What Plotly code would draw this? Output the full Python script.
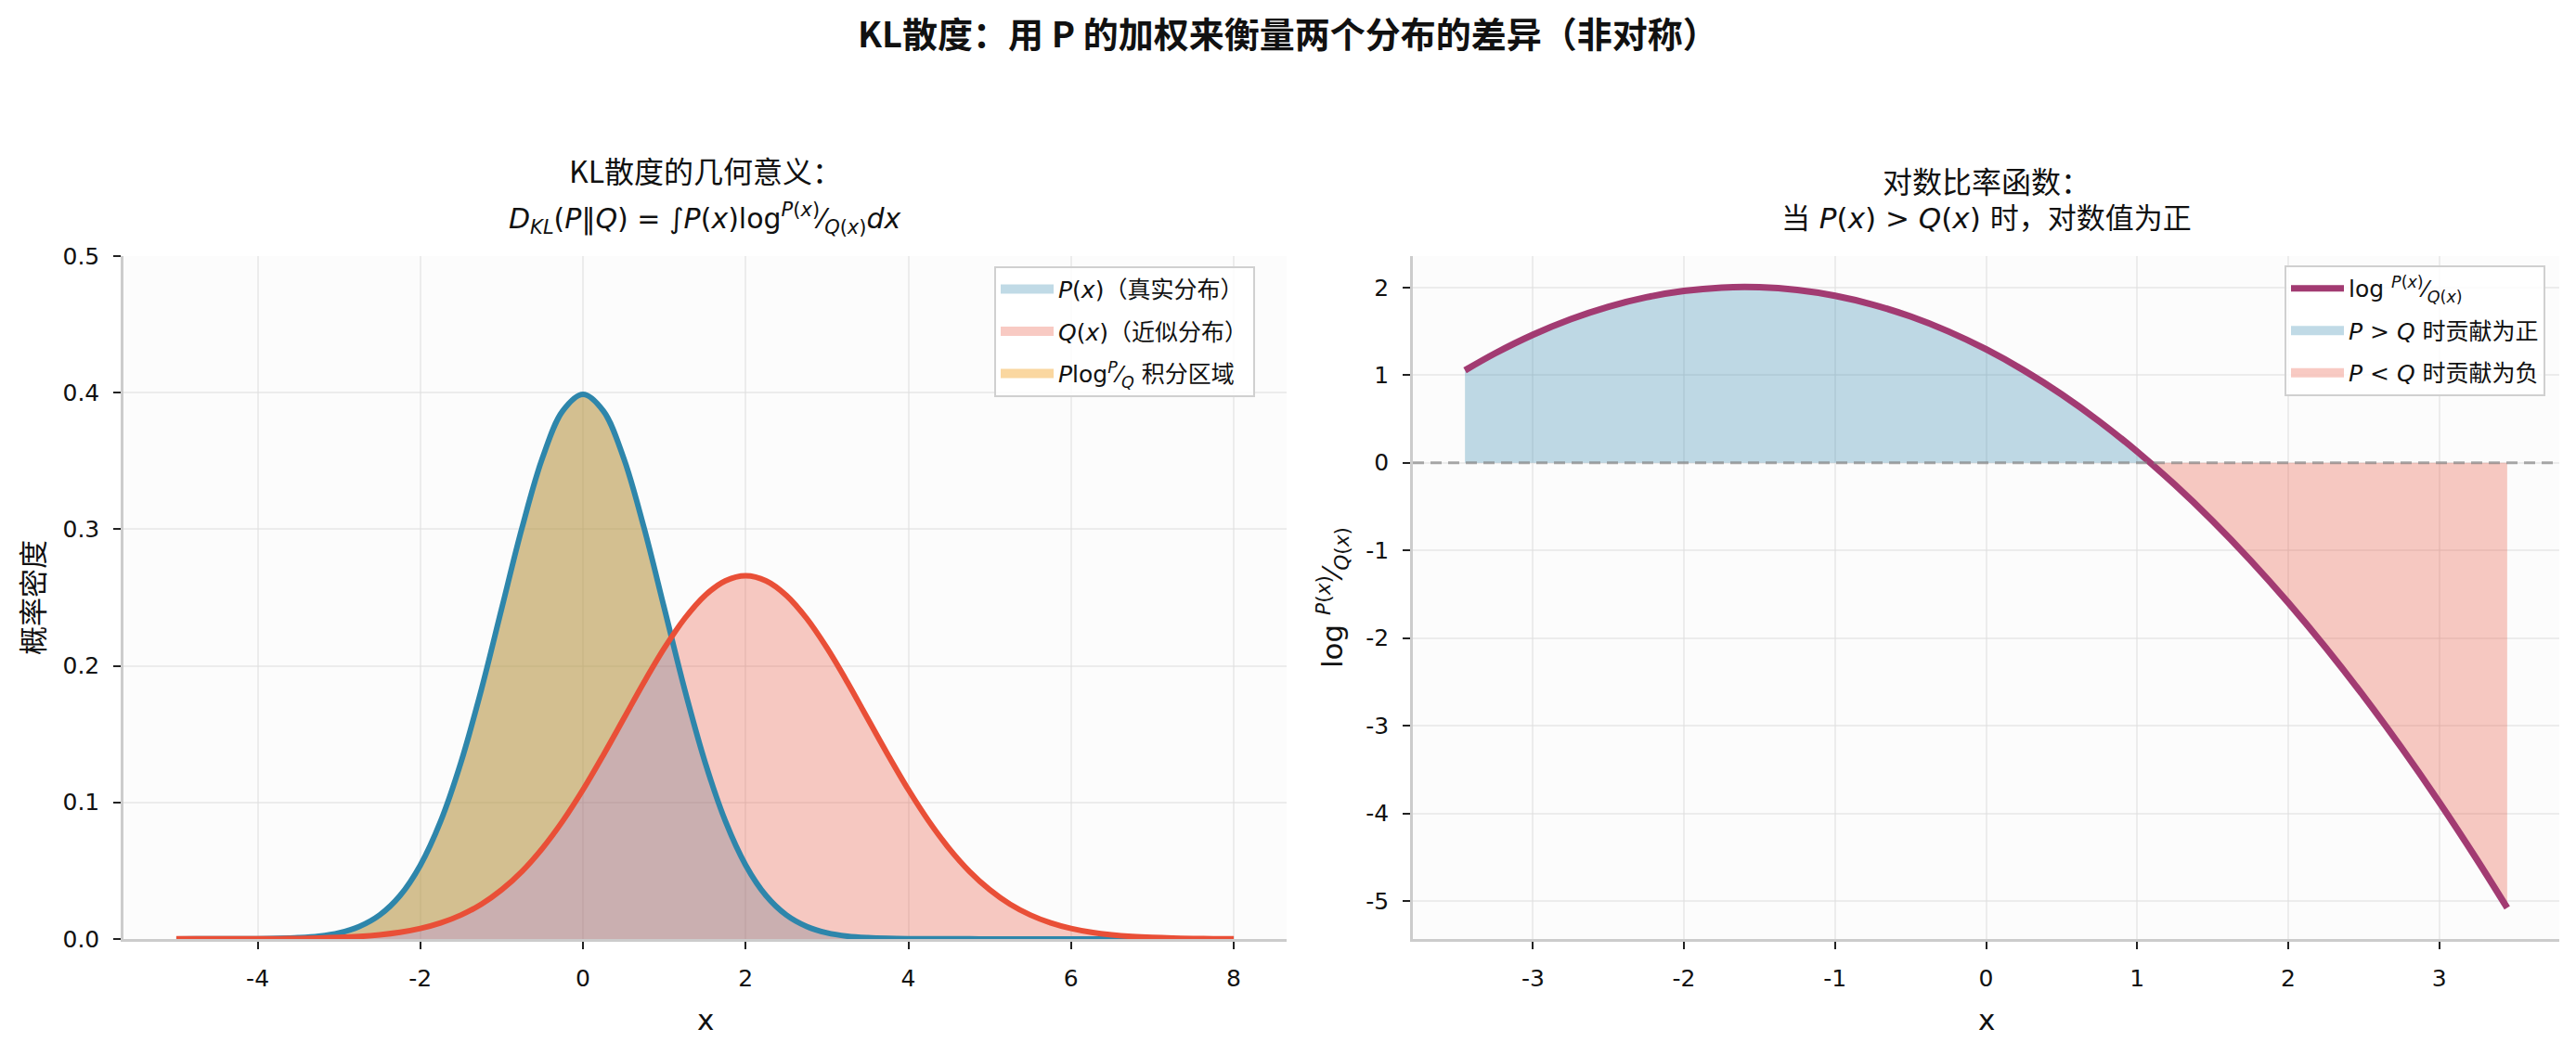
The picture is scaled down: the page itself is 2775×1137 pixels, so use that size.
import plotly.graph_objects as go

# ---------------- data ----------------
x_grid = [-5.0, -4.75, -4.5, -4.25, -4.0, -3.75, -3.5, -3.25, -3.0, -2.75, -2.5, -2.25,
          -2.0, -1.75, -1.5, -1.25, -1.0, -0.75, -0.5, -0.25, 0.0, 0.25, 0.5, 0.75,
          1.0, 1.25, 1.5, 1.75, 2.0, 2.25, 2.5, 2.75, 3.0, 3.25, 3.5, 3.75,
          4.0, 4.25, 4.5, 4.75, 5.0, 5.25, 5.5, 5.75, 6.0, 6.25, 6.5, 6.75,
          7.0, 7.25, 7.5, 7.75, 8.0]

p_density = [0.0, 0.00001, 0.00002, 0.00005, 0.00013, 0.00035, 0.00087, 0.0020, 0.0044, 0.0091, 0.0175, 0.0317,
             0.0540, 0.0863, 0.1295, 0.1826, 0.2420, 0.3011, 0.3521, 0.3867, 0.3989, 0.3867, 0.3521, 0.3011,
             0.2420, 0.1826, 0.1295, 0.0863, 0.0540, 0.0317, 0.0175, 0.0091, 0.0044, 0.0020, 0.00087, 0.00035,
             0.00013, 0.00005, 0.00002, 0.00001, 0.0, 0.0, 0.0, 0.0, 0.0, 0.0, 0.0, 0.0,
             0.0, 0.0, 0.0, 0.0, 0.0]

q_density = [0.00001, 0.00001, 0.00002, 0.000045, 0.00009, 0.00017, 0.00032, 0.00058, 0.00103, 0.00177, 0.00296, 0.0048,
             0.0076, 0.0117, 0.0175, 0.0254, 0.0360, 0.0495, 0.0663, 0.0863, 0.1093, 0.1347, 0.1613, 0.1880,
             0.2130, 0.2347, 0.2516, 0.2623, 0.2660, 0.2623, 0.2516, 0.2347, 0.2130, 0.1880, 0.1613, 0.1347,
             0.1093, 0.0863, 0.0663, 0.0495, 0.0360, 0.0254, 0.0175, 0.0117, 0.0076, 0.0048, 0.00296, 0.00177,
             0.00103, 0.00058, 0.00032, 0.00017, 0.00009]

x_ratio = [-3.45, -3.25, -3.0, -2.75, -2.5, -2.25, -2.0, -1.75, -1.5, -1.25, -1.0, -0.75, -0.5, -0.25,
           0.0, 0.25, 0.5, 0.75, 1.0, 1.25, 1.5, 1.75, 2.0, 2.25, 2.5, 2.75, 3.0, 3.25, 3.45]
log_ratio = [1.0548, 1.2492, 1.4610, 1.6381, 1.7805, 1.8881, 1.9610, 1.9992, 2.0027, 1.9714, 1.9055, 1.8048,
             1.6694, 1.4992, 1.2944, 1.0548, 0.7805, 0.4714, 0.1277, -0.2508, -0.6640, -1.1119, -1.5945,
             -2.1119, -2.6640, -3.2508, -3.8723, -4.5286, -5.0786]

left_xticks = [-4, -2, 0, 2, 4, 6, 8]
left_xticktext = ["-4", "-2", "0", "2", "4", "6", "8"]
left_yticks = [0.0, 0.1, 0.2, 0.3, 0.4, 0.5]
left_yticktext = ["0.0", "0.1", "0.2", "0.3", "0.4", "0.5"]
right_xticks = [-3, -2, -1, 0, 1, 2, 3]
right_xticktext = ["-3", "-2", "-1", "0", "1", "2", "3"]
right_yticks = [-5, -4, -3, -2, -1, 0, 1, 2]
right_yticktext = ["-5", "-4", "-3", "-2", "-1", "0", "1", "2"]

# ---------------- styling ----------------
C_P = "#2E86AB"
C_Q = "#E94F37"
C_RATIO = "#A23B72"
F_P = "rgba(46,134,171,0.3)"
F_Q = "rgba(233,79,55,0.3)"
F_O = "rgba(243,156,18,0.4)"
W, H = 2775, 1137
CJK = "Noto Sans CJK SC, DejaVu Sans, sans-serif"
LAT = "DejaVu Sans, Noto Sans CJK SC, sans-serif"


def px_x(p):
    return p / W


def px_y(p):
    return 1 - p / H


def padded(vals, frac=0.05):
    lo, hi = min(vals), max(vals)
    d = (hi - lo) * frac
    return [lo - d, hi + d]


def segment_where_above(xs, up, lo):
    """Points of the longest run where up > lo, with crossing points added."""
    diff = [u - l for u, l in zip(up, lo)]
    runs, cur = [], None
    for i, d in enumerate(diff):
        if d > 0:
            if cur is None:
                cur = [i, i]
            else:
                cur[1] = i
        else:
            if cur is not None:
                runs.append(cur)
                cur = None
    if cur is not None:
        runs.append(cur)
    a, b = max(runs, key=lambda r: r[1] - r[0])
    sx, su, sl = [], [], []
    if a > 0:
        t = diff[a - 1] / (diff[a - 1] - diff[a])
        xc = xs[a - 1] + t * (xs[a] - xs[a - 1])
        yc = lo[a - 1] + t * (lo[a] - lo[a - 1])
        sx.append(xc); su.append(yc); sl.append(yc)
    for i in range(a, b + 1):
        sx.append(xs[i]); su.append(up[i]); sl.append(lo[i])
    if b < len(xs) - 1:
        t = diff[b] / (diff[b] - diff[b + 1])
        xc = xs[b] + t * (xs[b + 1] - xs[b])
        yc = lo[b] + t * (lo[b + 1] - lo[b])
        sx.append(xc); su.append(yc); sl.append(yc)
    return sx, su, sl


def legend_patch(name, color, legend, rank, xa, ya):
    # legend-only entry drawn as a thick band (no data)
    return go.Scatter(x=[None], y=[None], mode="lines", line=dict(width=20, color=color),
                      name=name, legend=legend, legendrank=rank, legendgroup=f"{legend}{rank}",
                      xaxis=xa, yaxis=ya, hoverinfo="skip")


fig = go.Figure()

# ---- left panel fills ----
fig.add_trace(go.Scatter(x=x_grid, y=p_density, mode="none", fill="tozeroy",
                         line=dict(shape="spline"), fillcolor=F_P, showlegend=False,
                         xaxis="x", yaxis="y", hoverinfo="skip"))
fig.add_trace(go.Scatter(x=x_grid, y=q_density, mode="none", fill="tozeroy",
                         line=dict(shape="spline"), fillcolor=F_Q, showlegend=False,
                         xaxis="x", yaxis="y", hoverinfo="skip"))
sx, su, sl = segment_where_above(x_grid, p_density, q_density)
fig.add_trace(go.Scatter(x=sx, y=sl, mode="lines", line=dict(width=0, shape="spline"),
                         showlegend=False, xaxis="x", yaxis="y", hoverinfo="skip"))
fig.add_trace(go.Scatter(x=sx, y=su, mode="none", fill="tonexty",
                         line=dict(shape="spline"), fillcolor=F_O, showlegend=False,
                         xaxis="x", yaxis="y", hoverinfo="skip"))
# ---- left panel lines ----
fig.add_trace(go.Scatter(x=x_grid, y=p_density, mode="lines",
                         line=dict(width=6, shape="spline", color=C_P),
                         showlegend=False, xaxis="x", yaxis="y"))
fig.add_trace(go.Scatter(x=x_grid, y=q_density, mode="lines",
                         line=dict(width=6, shape="spline", color=C_Q),
                         showlegend=False, xaxis="x", yaxis="y"))
fig.add_trace(legend_patch("<i>P</i>(<i>x</i>)（真实分布）", F_P, "legend", 1, "x", "y"))
fig.add_trace(legend_patch("<i>Q</i>(<i>x</i>)（近似分布）", F_Q, "legend", 2, "x", "y"))
fig.add_trace(legend_patch("<i>P</i>log<sup><i>P</i></sup>⁄<sub><i>Q</i></sub> 积分区域", F_O, "legend", 3,
                           "x", "y"))

# ---- right panel fills ----
zero = [0.0] * len(x_ratio)
px_, pu, pl = segment_where_above(x_ratio, log_ratio, zero)
nx_, nu, nl = segment_where_above(x_ratio, zero, log_ratio)
fig.add_trace(go.Scatter(x=px_, y=pu, mode="none", fill="tozeroy",
                         line=dict(shape="spline"), fillcolor=F_P, showlegend=False,
                         xaxis="x2", yaxis="y2", hoverinfo="skip"))
fig.add_trace(go.Scatter(x=nx_, y=nl, mode="none", fill="tozeroy",
                         line=dict(shape="spline"), fillcolor=F_Q, showlegend=False,
                         xaxis="x2", yaxis="y2", hoverinfo="skip"))
fig.add_trace(go.Scatter(x=x_ratio, y=log_ratio, mode="lines",
                         line=dict(width=7, shape="spline", color=C_RATIO),
                         name="log <sup><i>P</i>(<i>x</i>)</sup>⁄<sub><i>Q</i>(<i>x</i>)</sub>",
                         legend="legend2", legendrank=1, legendgroup="legend21",
                         xaxis="x2", yaxis="y2"))
fig.add_trace(legend_patch("<i>P</i> > <i>Q</i> 时贡献为正", F_P, "legend2", 2, "x2", "y2"))
fig.add_trace(legend_patch("<i>P</i> &lt; <i>Q</i> 时贡献为负", F_Q, "legend2", 3, "x2", "y2"))

# ---- axes ----
axis_common = dict(showline=True, linecolor="#cccccc", linewidth=2.5, ticks="outside", ticklen=8,
                   tickwidth=2, tickcolor="#222222", showgrid=True, gridcolor="rgba(225,225,225,0.6)",
                   gridwidth=1.5, zeroline=False, tickfont=dict(family=LAT, size=25, color="#111111"),
                   ticklabelstandoff=10)

L0, L1 = 133, 1386
R0, R1 = 1522, 2757
T, B = 269, 1024

legend_common = dict(xanchor="right", yanchor="top", bgcolor="rgba(255,255,255,0.85)",
                     bordercolor="#d0d0d0", borderwidth=2, traceorder="grouped", tracegroupgap=10,
                     font=dict(family=LAT, size=25, color="#111111"), itemwidth=57)

fig.update_layout(
    width=W, height=H, margin=dict(l=0, r=0, t=0, b=0),
    paper_bgcolor="white", plot_bgcolor="#FCFCFC",
    font=dict(family=LAT, size=25, color="#111111"),
    xaxis=dict(domain=[px_x(L0), px_x(L1)], anchor="y", range=padded(x_grid),
               tickvals=left_xticks, ticktext=left_xticktext, **axis_common),
    yaxis=dict(domain=[px_y(B), px_y(T)], anchor="x", range=[0, 0.5],
               tickvals=left_yticks, ticktext=left_yticktext, **axis_common),
    xaxis2=dict(domain=[px_x(R0), px_x(R1)], anchor="y2", range=padded(x_ratio),
                tickvals=right_xticks, ticktext=right_xticktext, **axis_common),
    yaxis2=dict(domain=[px_y(B), px_y(T)], anchor="x2", range=padded(log_ratio),
                tickvals=right_yticks, ticktext=right_yticktext, **axis_common),
    legend=dict(x=px_x(1352), y=px_y(280), **legend_common),
    legend2=dict(x=px_x(2742), y=px_y(279), **legend_common),
    showlegend=True,
)

# dashed zero line on the right panel
fig.add_shape(type="line", xref="x2 domain", yref="y2", x0=0, x1=1, y0=0, y1=0,
              line=dict(color="rgba(128,128,128,0.65)", width=3, dash="12px,7px"), layer="above")

ann = []
ann.append(dict(text="<b>KL散度：用 P 的加权来衡量两个分布的差异（非对称）</b>", x=0.5, y=px_y(21),
                font=dict(family=CJK, size=38, color="#111111")))
lc = px_x((L0 + L1) / 2)
rc = px_x((R0 + R1) / 2)
ann.append(dict(text="KL散度的几何意义：", x=lc, y=px_y(173), font=dict(family=CJK, size=32)))
ann.append(dict(text="<i>D</i><sub><i>KL</i></sub>(<i>P</i>‖<i>Q</i>) = ∫<i>P</i>(<i>x</i>)log"
                     "<sup><i>P</i>(<i>x</i>)</sup>⁄<sub><i>Q</i>(<i>x</i>)</sub><i>dx</i>",
                x=lc, y=px_y(227), font=dict(family=LAT, size=30)))
ann.append(dict(text="对数比率函数：", x=rc, y=px_y(185), font=dict(family=CJK, size=32)))
ann.append(dict(text="当 <i>P</i>(<i>x</i>) > <i>Q</i>(<i>x</i>) 时，对数值为正", x=rc, y=px_y(227),
                font=dict(family=LAT, size=31)))
ann.append(dict(text="x", x=lc, y=px_y(1113), font=dict(family=LAT, size=31)))
ann.append(dict(text="x", x=rc, y=px_y(1113), font=dict(family=LAT, size=31)))
ann.append(dict(text="概率密度", x=px_x(33), y=px_y((T + B) / 2), textangle=-90,
                font=dict(family=CJK, size=31)))
ann.append(dict(text="log <sup><i>P</i>(<i>x</i>)</sup>⁄<sub><i>Q</i>(<i>x</i>)</sub>", x=px_x(1435),
                y=px_y((T + B) / 2), textangle=-90, font=dict(family=LAT, size=31)))
for a in ann:
    a.update(xref="paper", yref="paper", showarrow=False, xanchor="center", yanchor="middle")
    a.setdefault("font", {})
    a["font"].setdefault("color", "#111111")
fig.update_layout(annotations=ann)

fig.write_html("out.html")
